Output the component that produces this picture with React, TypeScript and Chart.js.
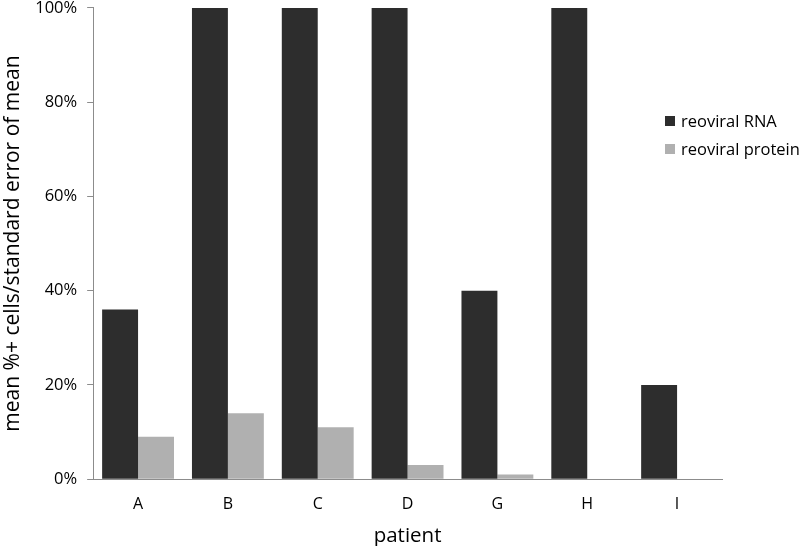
import React, { useEffect, useRef } from "react";
import { Chart, registerables } from "chart.js";

Chart.register(...registerables);

const categories = ["A", "B", "C", "D", "G", "H", "I"];
const rnaValues = [36, 100, 100, 100, 40, 100, 20];
const proteinValues = [9, 14, 11, 3, 1, 0, 0];
const seriesNames = ["reoviral RNA", "reoviral protein"];
const seriesColors = ["#2d2d2d", "#b0b0b0"];
const yTicks = [0, 20, 40, 60, 80, 100];

const FONT = "'Open Sans', 'Liberation Sans', sans-serif";
const SHIFT = 12;
const CANVAS_H = 560;

export default function App() {
  const ref = useRef<HTMLCanvasElement | null>(null);

  useEffect(() => {
    document.body.style.margin = "0";
    const ctx = ref.current!.getContext("2d")!;
    const chart = new Chart(ctx, {
      type: "bar",
      data: {
        labels: categories,
        datasets: [
          {
            label: seriesNames[0],
            data: rnaValues,
            backgroundColor: seriesColors[0],
            categoryPercentage: 0.8,
            barPercentage: 1.0,
          },
          {
            label: seriesNames[1],
            data: proteinValues,
            backgroundColor: seriesColors[1],
            categoryPercentage: 0.8,
            barPercentage: 1.0,
          },
        ],
      },
      options: {
        animation: false,
        responsive: false,
        maintainAspectRatio: false,
        layout: { padding: { top: 0, right: 78, left: 0, bottom: 0 } },
        plugins: {
          legend: { display: false },
          tooltip: { enabled: false },
        },
        scales: {
          x: {
            grid: { display: false },
            border: { display: true, color: "#8c8c8c", width: 1 },
            ticks: { color: "#000", font: { family: FONT, size: 16 }, padding: 8 },
            title: {
              display: true,
              text: "patient",
              color: "#000",
              font: { family: FONT, size: 20.5 },
              padding: { top: 1, bottom: 0 },
            },
          },
          y: {
            min: 0,
            max: 100,
            afterBuildTicks: (axis: any) => {
              axis.ticks = yTicks.map((v) => ({ value: v }));
            },
            grid: {
              drawOnChartArea: false,
              drawTicks: true,
              tickLength: 6,
              color: "#8c8c8c",
            },
            border: { display: true, color: "#8c8c8c", width: 1 },
            ticks: {
              color: "#000",
              font: { family: FONT, size: 16.5 },
              padding: 10,
              callback: (v: any) => v + "%",
            },
            title: {
              display: true,
              text: "mean %+ cells/standard error of mean",
              color: "#000",
              font: { family: FONT, size: 21 },
              padding: { top: 0, bottom: 0 },
            },
          },
        },
      },
    });
    return () => chart.destroy();
  }, []);

  return (
    <div
      style={{
        position: "relative",
        width: 800,
        height: 546,
        overflow: "hidden",
        background: "#fff",
      }}
    >
      <canvas
        ref={ref}
        width={800}
        height={CANVAS_H}
        style={{ display: "block", position: "absolute", left: 0, top: -SHIFT }}
      />
      <div
        style={{
          position: "absolute",
          left: 665,
          top: 107,
          fontFamily: FONT,
          fontSize: 16.5,
          color: "#000",
          lineHeight: "28px",
          whiteSpace: "nowrap",
        }}
      >
        {seriesNames.map((name, i) => (
          <div key={name} style={{ display: "flex", alignItems: "center" }}>
            <span
              style={{
                display: "inline-block",
                width: 10,
                height: 10,
                background: seriesColors[i],
                marginRight: 6,
              }}
            />
            {name}
          </div>
        ))}
      </div>
    </div>
  );
}
